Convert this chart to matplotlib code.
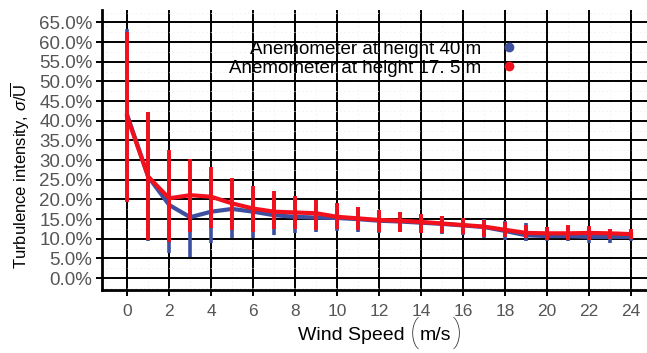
import matplotlib
matplotlib.use("Agg")
import matplotlib.pyplot as plt
import numpy as np
from matplotlib.lines import Line2D
from matplotlib.ticker import MultipleLocator, FuncFormatter

plt.rcParams["font.family"] = ["Liberation Sans", "DejaVu Sans"]
plt.rcParams["mathtext.fontset"] = "custom"
plt.rcParams["mathtext.rm"] = "Liberation Sans"
plt.rcParams["mathtext.it"] = "Liberation Sans:italic"
plt.rcParams["mathtext.sf"] = "Liberation Sans"

# Wind speed bins (m/s)
SPEED = np.arange(0, 25)

# Anemometer at 17.5 m: mean turbulence intensity and bar ends (%)
TI_175 = [41.0, 25.8, 20.3, 21.1, 20.7, 19.0, 17.7, 16.9, 16.7, 16.5, 15.6, 15.2, 14.8,
          14.6, 14.3, 13.9, 13.5, 13.1, 12.3, 11.5, 11.4, 11.4, 11.5, 11.4, 11.2]
TOP_175 = [62.7, 42.3, 32.6, 30.4, 28.3, 25.4, 23.4, 22.1, 20.9, 19.8, 19.0, 18.1, 17.3,
           16.9, 16.3, 15.8, 15.2, 14.8, 14.3, 13.5, 13.1, 13.5, 13.2, 12.6, 12.4]
BOT_175 = [19.4, 9.7, 9.2, 11.8, 12.7, 12.2, 11.8, 12.6, 12.6, 12.2, 12.6, 12.2, 11.8,
           11.8, 11.4, 11.4, 11.2, 10.5, 10.5, 10.1, 9.7, 9.7, 9.7, 9.9, 9.9]

# Anemometer at 40 m
TI_40 = [41.5, 25.8, 18.6, 15.5, 16.9, 17.6, 16.9, 16.0, 15.6, 15.4, 15.3, 15.0, 14.6,
         14.4, 14.1, 13.8, 13.4, 13.0, 12.0, 10.9, 10.7, 10.7, 10.5, 10.5, 10.5]
TOP_40 = [63.3, 42.3, 31.5, 25.7, 25.3, 24.3, 23.0, 21.4, 20.1, 19.5, 18.9, 18.0, 17.2,
          16.8, 16.3, 15.8, 15.3, 15.1, 14.6, 13.9, 13.0, 13.0, 12.8, 12.4, 12.2]
BOT_40 = [19.6, 9.4, 6.3, 5.4, 8.9, 10.2, 10.1, 10.9, 11.4, 11.8, 12.0, 11.8, 11.6,
          11.7, 11.4, 11.3, 11.0, 10.3, 9.8, 9.5, 9.5, 9.4, 9.0, 9.0, 9.5]

LABEL_40 = "Anemometer at height 40 m"
LABEL_175 = "Anemometer at height 17. 5 m"

BLUE = "#3d4f9f"
RED = "#f2101c"
TICK_GREY = "#555555"


def err(mean, top, bot):
    mean = np.asarray(mean)
    return [mean - np.asarray(bot), np.asarray(top) - mean]


fig = plt.figure(figsize=(6.47, 3.53), dpi=100)
ax = fig.add_axes([0.158, 0.178, 0.842, 0.794])

ax.errorbar(SPEED, TI_40, yerr=err(TI_40, TOP_40, BOT_40), color=BLUE, lw=3,
            elinewidth=2.6, capsize=0, zorder=3)
ax.errorbar(SPEED, TI_175, yerr=err(TI_175, TOP_175, BOT_175), color=RED, lw=3,
            elinewidth=2.8, capsize=0, zorder=4)

ax.set_xlim(-1.19, 24.76)
ax.set_ylim(-3.05, 68.2)
ax.xaxis.set_major_locator(MultipleLocator(2))
ax.xaxis.set_minor_locator(MultipleLocator(1))
ax.yaxis.set_major_locator(MultipleLocator(5))
ax.yaxis.set_minor_locator(MultipleLocator(2.5))
ax.yaxis.set_major_formatter(FuncFormatter(lambda v, p: f"{v:.1f}%"))
ax.set_yticks(np.arange(0, 66, 5))

ax.grid(which="major", color="black", lw=1.4, zorder=1)
ax.grid(which="minor", color="#ececec", lw=0.5, ls=(0, (2, 4)), zorder=0)
ax.tick_params(which="major", length=4, width=1.4, color="black",
               labelcolor=TICK_GREY)
ax.tick_params(axis="y", labelsize=13.5, pad=3)
ax.tick_params(axis="x", labelsize=12.5, pad=6)
ax.tick_params(which="minor", length=0)

for side in ["top", "right"]:
    ax.spines[side].set_visible(False)
for side in ["left", "bottom"]:
    ax.spines[side].set_linewidth(2)

# x label with tall, thin parentheses around the unit
paren = dict(fontsize=22, color="#333333", family=["Roboto", "Liberation Sans"],
             fontweight="light")
t1 = ax.text(0.556, -0.163, "Wind Speed", transform=ax.transAxes, ha="right",
             va="center", fontsize=14)
t2 = ax.annotate("(", xy=(1, 0.5), xycoords=t1, xytext=(3, 2), textcoords="offset points",
                 ha="left", va="center", **paren)
t3 = ax.annotate("m/s", xy=(1, 0.5), xycoords=t2, xytext=(1, -2), textcoords="offset points",
                 ha="left", va="center", fontsize=14)
ax.annotate(")", xy=(1, 0.5), xycoords=t3, xytext=(1, 2), textcoords="offset points",
            ha="left", va="center", **paren)

ax.set_ylabel(r"Turbulence intensity, $\sigma/\overline{\mathrm{U}}$", fontsize=12)
ax.yaxis.set_label_coords(-0.128, 0.41)

handles = [
    Line2D([], [], marker="o", ls="none", color=BLUE, markersize=6, label=LABEL_40),
    Line2D([], [], marker="o", ls="none", color=RED, markersize=6, label=LABEL_175),
]
ax.legend(handles=handles, loc="upper right", bbox_to_anchor=(0.825, 0.922),
          bbox_transform=fig.transFigure, frameon=False, markerfirst=False,
          fontsize=13.5, labelspacing=0.1, handletextpad=0.9, handlelength=1.2,
          borderpad=0.2)

fig.savefig("out.png", dpi=100)
